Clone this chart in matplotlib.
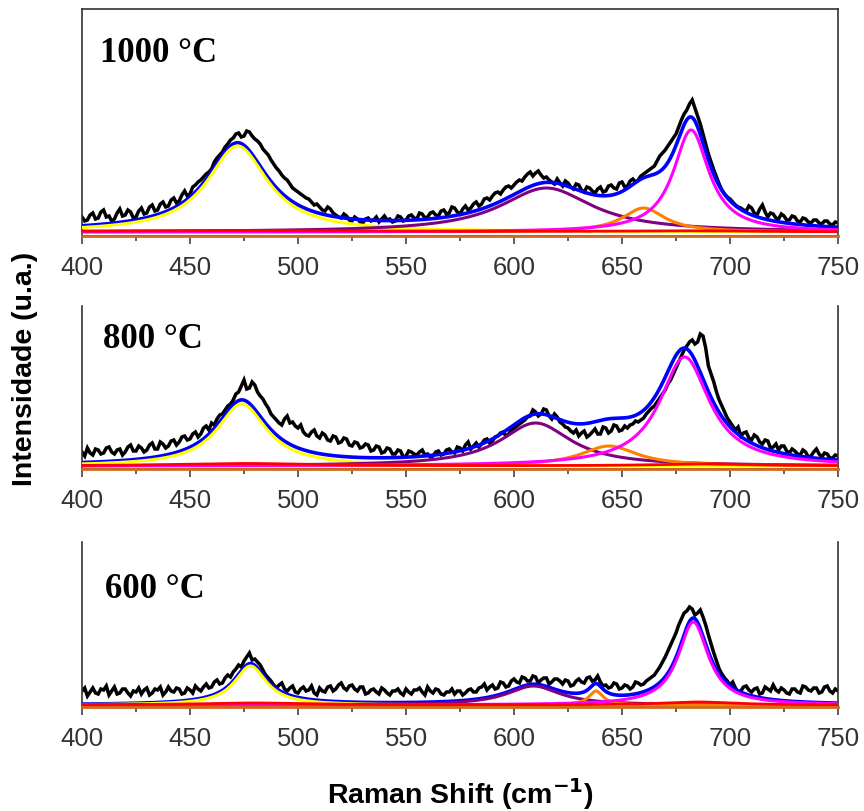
import numpy as np
import matplotlib
matplotlib.use("Agg")
import matplotlib.pyplot as plt
from matplotlib.ticker import MultipleLocator

# Raman shift range of the measured spectra (cm^-1)
shift_start, shift_stop = 400.0, 750.0

# Measured intensities (a.u.), one value every 1.25 cm^-1 from 400 to 750
spec_1000 = [
    15, 11, 12, 17, 19, 13, 14, 20, 22, 15, 16, 11, 13, 19, 23, 16, 17, 22, 20, 14,
    15, 21, 24, 18, 19, 25, 27, 21, 22, 28, 30, 25, 26, 32, 34, 29, 31, 37, 41, 36,
    38, 45, 47, 50, 52, 55, 58, 60, 63, 70, 74, 77, 80, 85, 88, 92, 94, 98, 99, 95,
    96, 101, 100, 96, 93, 91, 88, 83, 80, 77, 72, 68, 64, 61, 57, 54, 52, 48, 44, 42,
    40, 38, 36, 34, 33, 30, 27, 28, 25, 22, 21, 25, 23, 19, 17, 15, 14, 18, 16, 12,
    11, 15, 13, 10, 9, 13, 14, 11, 12, 15, 10, 13, 16, 12, 13, 10, 11, 16, 15, 11,
    12, 16, 17, 14, 13, 19, 18, 14, 15, 19, 20, 17, 16, 21, 22, 18, 19, 25, 24, 20,
    18, 23, 26, 22, 24, 28, 30, 26, 28, 33, 34, 32, 36, 39, 40, 38, 42, 45, 46, 44,
    47, 50, 52, 51, 55, 58, 60, 56, 59, 61, 57, 54, 55, 52, 50, 48, 53, 49, 46, 51,
    49, 45, 43, 48, 47, 42, 40, 45, 44, 41, 39, 43, 45, 40, 41, 46, 47, 44, 43, 49,
    50, 45, 46, 51, 53, 50, 52, 56, 58, 60, 62, 64, 66, 71, 76, 79, 82, 86, 90, 94,
    98, 105, 112, 118, 122, 128, 132, 124, 116, 108, 98, 88, 78, 70, 62, 55, 48, 42, 38, 35,
    33, 30, 27, 25, 24, 22, 21, 26, 24, 19, 17, 23, 27, 20, 15, 19, 18, 14, 13, 18,
    16, 12, 12, 16, 15, 11, 10, 14, 13, 10, 9, 12, 12, 9, 8, 11, 11, 8, 7, 10,
    9,
]
spec_800 = [
    14, 10, 18, 13, 11, 17, 16, 12, 13, 18, 19, 14, 12, 16, 17, 11, 14, 19, 21, 15,
    15, 20, 18, 14, 16, 21, 23, 17, 17, 24, 22, 18, 20, 25, 26, 21, 24, 29, 30, 26,
    27, 32, 34, 29, 32, 38, 40, 36, 43, 41, 47, 51, 52, 56, 60, 62, 66, 72, 74, 80,
    86, 77, 78, 84, 81, 74, 70, 67, 62, 58, 52, 49, 46, 43, 41, 47, 50, 43, 44, 40,
    38, 41, 34, 31, 30, 34, 36, 30, 28, 33, 31, 26, 25, 30, 29, 23, 24, 28, 27, 21,
    20, 24, 23, 18, 19, 22, 21, 15, 16, 20, 19, 13, 14, 18, 17, 12, 12, 16, 15, 9,
    10, 15, 14, 12, 11, 14, 16, 11, 12, 9, 10, 14, 15, 11, 12, 16, 17, 14, 13, 19,
    18, 15, 21, 24, 17, 20, 23, 19, 22, 26, 27, 23, 25, 29, 30, 33, 34, 30, 32, 36,
    38, 40, 42, 44, 46, 49, 50, 56, 54, 50, 52, 57, 56, 50, 47, 52, 49, 44, 42, 39,
    38, 35, 33, 36, 30, 33, 35, 29, 31, 34, 37, 32, 32, 39, 38, 33, 35, 41, 40, 35,
    36, 40, 38, 41, 42, 45, 44, 46, 48, 52, 55, 58, 60, 64, 68, 72, 76, 82, 86, 92,
    98, 104, 110, 116, 120, 124, 126, 122, 124, 132, 130, 118, 100, 92, 84, 74, 66, 60, 54, 48,
    44, 40, 36, 39, 30, 33, 34, 28, 26, 31, 29, 24, 22, 26, 25, 18, 19, 22, 16, 20,
    20, 15, 13, 17, 15, 12, 11, 16, 14, 9, 10, 14, 17, 12, 9, 13, 12, 8, 8, 11,
    10,
]
spec_600 = [
    14, 17, 9, 13, 17, 12, 11, 16, 15, 19, 10, 14, 18, 11, 12, 16, 16, 12, 9, 14,
    13, 17, 11, 15, 17, 10, 12, 16, 15, 18, 10, 13, 18, 14, 13, 17, 16, 11, 12, 17,
    15, 12, 19, 16, 14, 18, 21, 17, 18, 23, 25, 21, 22, 27, 30, 28, 33, 36, 40, 38,
    44, 48, 52, 45, 46, 43, 40, 35, 30, 27, 24, 20, 17, 20, 22, 16, 14, 17, 19, 13,
    12, 16, 18, 14, 15, 19, 12, 10, 17, 14, 13, 18, 19, 14, 16, 20, 22, 17, 15, 19,
    20, 16, 14, 18, 18, 11, 12, 15, 16, 13, 11, 17, 15, 12, 10, 14, 14, 16, 12, 10,
    16, 13, 11, 15, 15, 17, 13, 10, 18, 14, 12, 16, 15, 11, 10, 13, 13, 16, 11, 14,
    14, 10, 12, 15, 16, 13, 13, 17, 18, 21, 15, 18, 20, 16, 17, 23, 22, 18, 19, 24,
    26, 23, 22, 28, 27, 24, 24, 29, 28, 22, 25, 27, 27, 21, 23, 26, 26, 24, 21, 25,
    24, 19, 20, 24, 26, 23, 22, 27, 28, 24, 25, 29, 23, 19, 20, 17, 18, 22, 21, 16,
    17, 20, 19, 16, 18, 23, 22, 20, 21, 24, 26, 28, 30, 34, 38, 43, 48, 54, 60, 66,
    72, 80, 86, 92, 94, 98, 96, 90, 92, 95, 88, 80, 70, 61, 52, 44, 36, 31, 27, 24,
    20, 23, 17, 13, 14, 18, 19, 15, 13, 16, 17, 11, 12, 18, 16, 14, 20, 15, 13, 17,
    15, 12, 11, 16, 16, 13, 12, 19, 18, 15, 14, 17, 17, 12, 13, 18, 19, 14, 12, 16,
    14,
]

# Fitted Lorentzian bands: centre (cm^-1), height (a.u.), FWHM (cm^-1)
# order: yellow, purple, orange, magenta
centres_1000 = [472, 615, 660, 682]
heights_1000 = [86, 44, 24, 102]
fwhm_1000 = [34, 52, 24, 20]

centres_800 = [474, 610, 644, 679]
heights_800 = [62, 43, 20, 109]
fwhm_800 = [28, 40, 32, 28]

centres_600 = [478, 609, 638, 683]
heights_600 = [39, 19, 14, 83]
fwhm_600 = [18, 30, 8, 17]

# Weak broad bands (red)
red_centres_1000 = [470, 680]
red_heights_1000 = [1.5, 1.0]
red_fwhm_1000 = [160, 80]
red_centres_800 = [475, 690]
red_heights_800 = [2.5, 2.0]
red_fwhm_800 = [80, 60]
red_centres_600 = [480, 685]
red_heights_600 = [2.0, 3.0]
red_fwhm_600 = [60, 40]

labels = ["1000 \u00b0C", "800 \u00b0C", "600 \u00b0C"]
x_ticks = [400, 450, 500, 550, 600, 650, 700, 750]

band_colors = ["#ffff00", "#800080", "#ff8000", "#ff00ff"]


def lorentz(x, c, h, fwhm):
    return h / (1.0 + ((x - c) / (fwhm / 2.0)) ** 2)


W, H = 864, 812
fig = plt.figure(figsize=(W / 100, H / 100), dpi=100)

# panel boxes in pixels: (left, right, top, bottom) and y-range
panels = [
    dict(box=(82, 838, 10, 237), ylim=(-4, 223), spec=spec_1000,
         c=centres_1000, h=heights_1000, w=fwhm_1000,
         rc=red_centres_1000, rh=red_heights_1000, rw=red_fwhm_1000,
         label=labels[0], lab_pos=(0.024, 0.771), top=True),
    dict(box=(82, 838, 307, 470), ylim=(-3, 160), spec=spec_800,
         c=centres_800, h=heights_800, w=fwhm_800,
         rc=red_centres_800, rh=red_heights_800, rw=red_fwhm_800,
         label=labels[1], lab_pos=(0.028, 0.748), top=False),
    dict(box=(82, 838, 543, 708), ylim=(-2, 163), spec=spec_600,
         c=centres_600, h=heights_600, w=fwhm_600,
         rc=red_centres_600, rh=red_heights_600, rw=red_fwhm_600,
         label=labels[2], lab_pos=(0.030, 0.667), top=False),
]

xf = np.linspace(shift_start, shift_stop, 1401)

for p in panels:
    l, r, t, b = p["box"]
    ax = fig.add_axes([l / W, 1 - b / H, (r - l) / W, (b - t) / H])
    spec = np.asarray(p["spec"], dtype=float)
    xs = np.linspace(shift_start, shift_stop, len(spec))

    ax.plot(xs, spec, color="black", lw=2.5, zorder=2, solid_joinstyle="miter")

    bands = [lorentz(xf, c, h, w) for c, h, w in zip(p["c"], p["h"], p["w"])]
    red = sum(lorentz(xf, c, h, w) for c, h, w in zip(p["rc"], p["rh"], p["rw"]))
    total = sum(bands) + red

    ax.plot(xf, total, color="#0000ff", lw=2.6, zorder=3)
    for band, col in zip(bands, band_colors):
        ax.plot(xf, band, color=col, lw=2.2, zorder=4)
    ax.plot(xf, red, color="#ff0000", lw=2.0, zorder=4)
    ax.axhline(p["ylim"][0], color="#d2691e", lw=2.0, zorder=5, clip_on=False)

    ax.set_xlim(shift_start, shift_stop)
    ax.set_ylim(*p["ylim"])
    ax.set_yticks([])
    ax.set_xticks(x_ticks)
    ax.xaxis.set_minor_locator(MultipleLocator(25))
    ax.tick_params(axis="x", which="major", direction="out", length=6, width=1.1,
                   color="#333333", labelsize=18.5, labelcolor="#333333", pad=8)
    ax.tick_params(axis="x", which="minor", direction="out", length=3.6, width=1.1,
                   color="#333333")
    for lab in ax.get_xticklabels():
        lab.set_family("Liberation Sans")

    for side, sp in ax.spines.items():
        sp.set_color("#333333")
        sp.set_linewidth(1.2)
    ax.spines["top"].set_visible(p["top"])

    ax.text(p["lab_pos"][0], p["lab_pos"][1], p["label"], transform=ax.transAxes,
            family="Liberation Serif", fontweight="bold", fontsize=25,
            ha="left", va="baseline", color="black")

fig.text(460 / W, 1 - 794 / H, "Raman Shift (cm$^{\\mathbf{-1}}$)", ha="center", va="center",
         family="Liberation Sans", fontweight="bold", fontsize=20.5)
fig.text(25 / W, 1 - 369 / H, "Intensidade (u.a.)", ha="center", va="center",
         rotation=90, family="Liberation Sans", fontweight="bold", fontsize=20.5)

fig.savefig("out.png", dpi=100)
